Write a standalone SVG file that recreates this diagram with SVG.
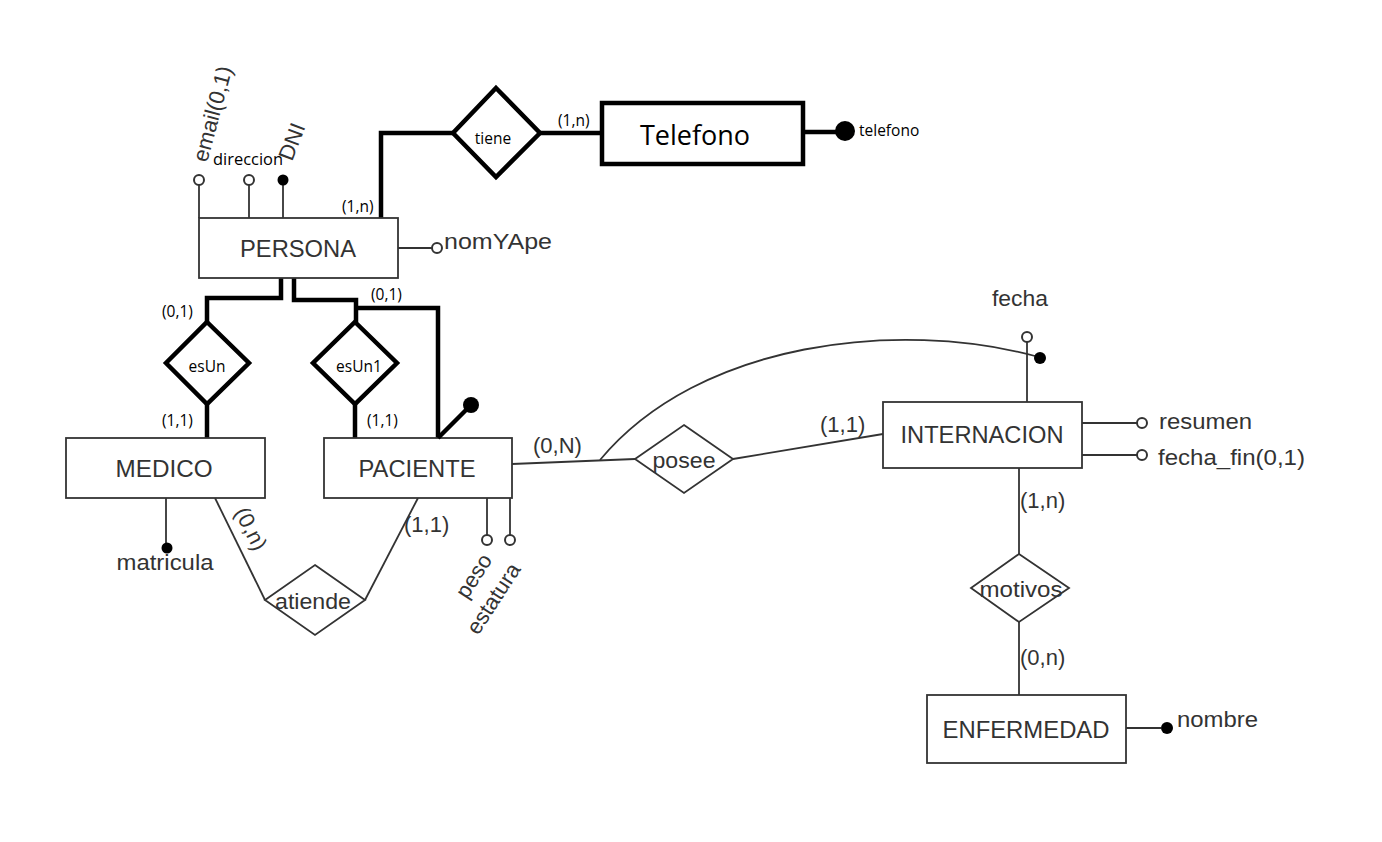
<svg xmlns="http://www.w3.org/2000/svg" width="1382" height="842" viewBox="0 0 1382 842">
<style>
.thick{fill:none;stroke:#000;stroke-width:4.5}
.thin{fill:none;stroke:#333;stroke-width:1.8}
.ent{fill:#fff;stroke:#333;stroke-width:1.8}
.entk{fill:#fff;stroke:#000;stroke-width:4.5}
.rel{fill:#fff;stroke:#333;stroke-width:1.8}
.relk{fill:#fff;stroke:#000;stroke-width:4.5}
.et{font-family:"Liberation Sans",Arial,sans-serif;font-size:23px;fill:#333;text-anchor:middle}
.at{font-family:"Liberation Sans",Arial,sans-serif;font-size:22px;fill:#333}
.ct{font-family:"Open Sans",sans-serif;font-size:15.5px;fill:#000}
.oc{fill:#fff;stroke:#333;stroke-width:2}
.fc{fill:#000}
</style>
<rect width="1382" height="842" fill="#fff"/>
<g id="connectors">
  <path class="thick" d="M381,218 V133 H453"/>
  <path class="thick" d="M540,133 H602"/>
  <path class="thick" d="M281,278 V298 H207 V322"/>
  <path class="thick" d="M207,404 V438"/>
  <path class="thick" d="M294,278 V300 H356 V322"/>
  <path class="thick" d="M356,308 H438 V438"/>
  <path class="thick" d="M355,404 V438"/>
  <path class="thin" d="M215,498 L265,600"/>
  <path class="thin" d="M418,498 L365,600"/>
  <path class="thin" d="M512,464 L635,459"/>
  <path class="thin" d="M733,459 L883,434"/>
  <path class="thin" d="M600,460 C700,340 900,320 1035,356"/>
  <path class="thin" d="M1019,468 V554"/>
  <path class="thin" d="M1019,622 V695"/>
  <text class="ct" x="342" y="212">(1,n)</text>
  <text class="ct" x="558" y="126">(1,n)</text>
  <text class="ct" x="162" y="317">(0,1)</text>
  <text class="ct" x="162" y="426">(1,1)</text>
  <text class="ct" x="367" y="426">(1,1)</text>
  <text class="ct" x="371" y="300">(0,1)</text>
  <text class="at" transform="translate(234,512) rotate(63)">(0,n)</text>
  <text class="at" x="404" y="532">(1,1)</text>
  <text class="at" x="533" y="453">(0,N)</text>
  <text class="at" x="820" y="432">(1,1)</text>
  <text class="at" x="1020" y="508">(1,n)</text>
  <text class="at" x="1020" y="665">(0,n)</text>
</g>
<g id="persona">
  <rect class="ent" x="199" y="218" width="199" height="60"/>
  <text class="et" x="298" y="257" textLength="116" lengthAdjust="spacingAndGlyphs">PERSONA</text>
</g>
<g id="attr-email">
  <line class="thin" x1="199" y1="218" x2="199" y2="185"/>
  <circle class="oc" cx="199" cy="180" r="5"/>
  <text class="at" transform="translate(207,163) rotate(-75)">email(0,1)</text>
</g>
<g id="attr-direccion">
  <line class="thin" x1="249" y1="218" x2="249" y2="185"/>
  <circle class="oc" cx="249" cy="180" r="5"/>
  <text class="ct" x="213" y="165" textLength="70" lengthAdjust="spacingAndGlyphs">direccion</text>
</g>
<g id="attr-dni">
  <line class="thin" x1="283" y1="218" x2="283" y2="185"/>
  <circle class="fc" cx="283" cy="180" r="5.5"/>
  <text class="at" transform="translate(292,162) rotate(-69)">DNI</text>
</g>
<g id="attr-nomyape">
  <line class="thin" x1="398" y1="248" x2="432" y2="248"/>
  <circle class="oc" cx="437" cy="248" r="5"/>
  <text class="at" x="444" y="249" textLength="108" lengthAdjust="spacingAndGlyphs">nomYApe</text>
</g>
<g id="tiene">
  <polygon class="relk" points="496,88 540,133 496,177 453,133"/>
  <text class="ct" x="493" y="144" text-anchor="middle">tiene</text>
</g>
<g id="telefono">
  <rect class="entk" x="602" y="103" width="201" height="61"/>
  <text x="695" y="145" text-anchor="middle" style="font-family:'Open Sans',sans-serif;font-size:27px;fill:#000">Telefono</text>
</g>
<g id="attr-telefono">
  <line class="thick" x1="803" y1="132" x2="836" y2="132"/>
  <circle class="fc" cx="845" cy="131" r="10"/>
  <text class="ct" x="859" y="136">telefono</text>
</g>
<g id="esUn">
  <polygon class="relk" points="207,322 249,363 207,404 166,363"/>
  <text class="ct" x="207" y="372" text-anchor="middle">esUn</text>
</g>
<g id="esUn1">
  <polygon class="relk" points="355,322 397,363 355,404 313,363"/>
  <text class="ct" x="359" y="372" text-anchor="middle">esUn1</text>
</g>
<g id="medico">
  <rect class="ent" x="66" y="438" width="199" height="60"/>
  <text class="et" x="164" y="477" textLength="97" lengthAdjust="spacingAndGlyphs">MEDICO</text>
</g>
<g id="attr-matricula">
  <line class="thin" x1="166" y1="498" x2="166" y2="543"/>
  <circle class="fc" cx="167" cy="548" r="5.5"/>
  <text class="at" x="165" y="570" text-anchor="middle" textLength="97" lengthAdjust="spacingAndGlyphs">matricula</text>
</g>
<g id="paciente">
  <rect class="ent" x="324" y="438" width="188" height="60"/>
  <text class="et" x="417" y="477" textLength="117" lengthAdjust="spacingAndGlyphs">PACIENTE</text>
</g>
<g id="attr-paciente-key">
  <line class="thick" x1="438" y1="438" x2="466" y2="410"/>
  <circle class="fc" cx="471" cy="405" r="8"/>
</g>
<g id="attr-peso">
  <line class="thin" x1="487" y1="498" x2="487" y2="535"/>
  <circle class="oc" cx="487" cy="540" r="5"/>
  <text class="at" transform="translate(467,600) rotate(-57)">peso</text>
</g>
<g id="attr-estatura">
  <line class="thin" x1="510" y1="498" x2="510" y2="535"/>
  <circle class="oc" cx="510" cy="540" r="5"/>
  <text class="at" transform="translate(478,636) rotate(-57)">estatura</text>
</g>
<g id="atiende">
  <polygon class="rel" points="315,565 365,600 315,635 265,600"/>
  <text class="at" x="313" y="609" text-anchor="middle" textLength="76" lengthAdjust="spacingAndGlyphs">atiende</text>
</g>
<g id="posee">
  <polygon class="rel" points="684,425 733,459 684,493 635,459"/>
  <text class="at" x="684" y="468" text-anchor="middle" textLength="63" lengthAdjust="spacingAndGlyphs">posee</text>
</g>
<g id="internacion">
  <rect class="ent" x="883" y="402" width="199" height="66"/>
  <text class="et" x="982" y="443" textLength="163" lengthAdjust="spacingAndGlyphs">INTERNACION</text>
</g>
<g id="attr-fecha">
  <line class="thin" x1="1027" y1="402" x2="1027" y2="342"/>
  <circle class="oc" cx="1027" cy="337" r="5"/>
  <circle class="fc" cx="1040" cy="358" r="6"/>
  <text class="at" x="1020" y="306" text-anchor="middle" textLength="56" lengthAdjust="spacingAndGlyphs">fecha</text>
</g>
<g id="attr-resumen">
  <line class="thin" x1="1082" y1="423" x2="1137" y2="423"/>
  <circle class="oc" cx="1142" cy="423" r="5"/>
  <text class="at" x="1159" y="429" textLength="93" lengthAdjust="spacingAndGlyphs">resumen</text>
</g>
<g id="attr-fecha-fin">
  <line class="thin" x1="1082" y1="455" x2="1137" y2="455"/>
  <circle class="oc" cx="1142" cy="455" r="5"/>
  <text class="at" x="1158" y="465" textLength="147" lengthAdjust="spacingAndGlyphs">fecha_fin(0,1)</text>
</g>
<g id="motivos">
  <polygon class="rel" points="1019,554 1069,588 1019,622 971,588"/>
  <text class="at" x="1021" y="597" text-anchor="middle" textLength="83" lengthAdjust="spacingAndGlyphs">motivos</text>
</g>
<g id="enfermedad">
  <rect class="ent" x="927" y="695" width="199" height="68"/>
  <text class="et" x="1026" y="738" textLength="167" lengthAdjust="spacingAndGlyphs">ENFERMEDAD</text>
</g>
<g id="attr-nombre">
  <line class="thin" x1="1126" y1="728" x2="1161" y2="728"/>
  <circle class="fc" cx="1167" cy="728" r="6"/>
  <text class="at" x="1177" y="727" textLength="81" lengthAdjust="spacingAndGlyphs">nombre</text>
</g>
</svg>
